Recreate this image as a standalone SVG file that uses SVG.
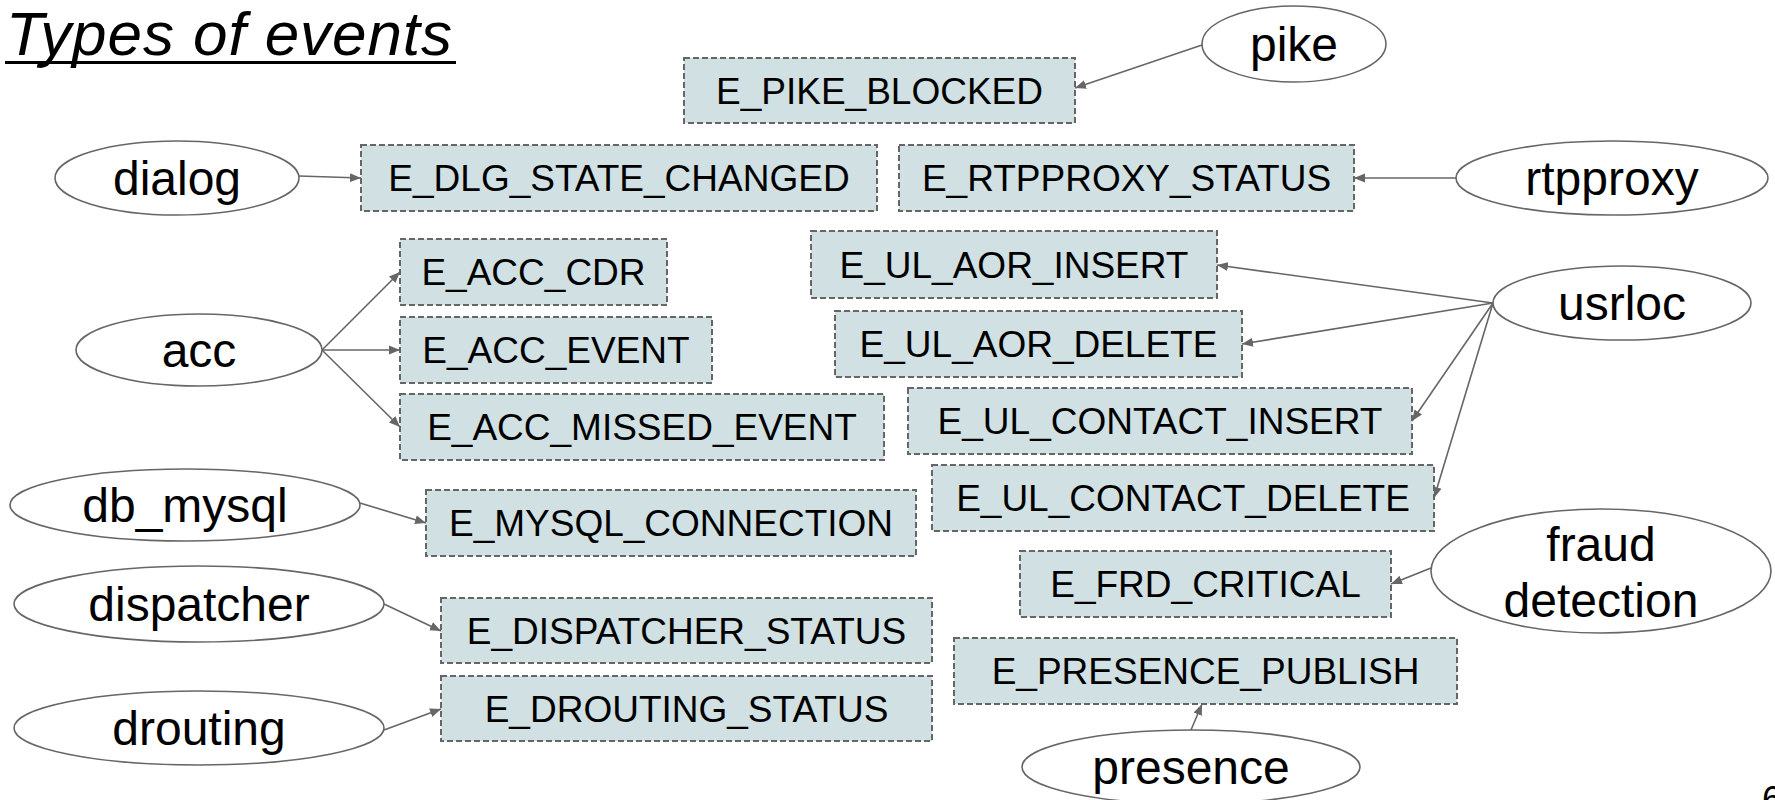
<svg xmlns="http://www.w3.org/2000/svg" width="1775" height="800" viewBox="0 0 1775 800">
<defs>
<marker id="arr" markerUnits="userSpaceOnUse" markerWidth="12" markerHeight="10" refX="11" refY="5" orient="auto">
<path d="M0,0.5 L11,5 L0,9.5 z" fill="#666666"/>
</marker>
<style>
.box{fill:#d0e0e3;stroke:#666666;stroke-width:2;stroke-dasharray:6,3}
.bt{font-family:"Liberation Sans",Arial,sans-serif;font-size:37px;fill:#000;text-anchor:middle}
.el{fill:#ffffff;stroke:#666666;stroke-width:1.6}
.et{font-family:"Liberation Sans",Arial,sans-serif;font-size:48px;fill:#000;text-anchor:middle}
.c{stroke:#666666;stroke-width:1.6;fill:none;marker-end:url(#arr)}
</style>
</defs>
<rect width="1775" height="800" fill="#ffffff"/>
<text x="6" y="55" font-family="Liberation Sans,Arial,sans-serif" font-size="62" font-style="italic" fill="#000" textLength="446" lengthAdjust="spacing">Types of events</text>
<rect x="5" y="61" width="451" height="3" fill="#000"/>

<g id="connectors">
<line class="c" x1="1202" y1="45" x2="1075" y2="88"/>
<line class="c" x1="299" y1="176" x2="361" y2="178"/>
<line class="c" x1="1456" y1="178" x2="1354" y2="178"/>
<line class="c" x1="322" y1="350" x2="400" y2="272"/>
<line class="c" x1="322" y1="350" x2="400" y2="350"/>
<line class="c" x1="322" y1="350" x2="400" y2="427"/>
<line class="c" x1="360" y1="503" x2="426" y2="523"/>
<line class="c" x1="384" y1="604" x2="441" y2="631"/>
<line class="c" x1="384" y1="730" x2="441" y2="709"/>
<line class="c" x1="1493" y1="303" x2="1217" y2="265"/>
<line class="c" x1="1493" y1="303" x2="1242" y2="344"/>
<line class="c" x1="1493" y1="303" x2="1412" y2="421"/>
<line class="c" x1="1493" y1="303" x2="1434" y2="498"/>
<line class="c" x1="1431" y1="568" x2="1391" y2="584"/>
<line class="c" x1="1191" y1="730" x2="1202" y2="704"/>
</g>

<g id="E_PIKE_BLOCKED"><rect class="box" x="684" y="58" width="391" height="65"/><text class="bt" x="879.5" y="104">E_PIKE_BLOCKED</text></g>
<g id="E_DLG_STATE_CHANGED"><rect class="box" x="361" y="145" width="516" height="66"/><text class="bt" x="619" y="191">E_DLG_STATE_CHANGED</text></g>
<g id="E_RTPPROXY_STATUS"><rect class="box" x="899" y="145" width="455" height="66"/><text class="bt" x="1126.5" y="191">E_RTPPROXY_STATUS</text></g>
<g id="E_ACC_CDR"><rect class="box" x="400" y="239" width="267" height="66"/><text class="bt" x="533.5" y="285">E_ACC_CDR</text></g>
<g id="E_ACC_EVENT"><rect class="box" x="400" y="317" width="312" height="66"/><text class="bt" x="556" y="363">E_ACC_EVENT</text></g>
<g id="E_ACC_MISSED_EVENT"><rect class="box" x="400" y="394" width="484" height="66"/><text class="bt" x="642" y="440">E_ACC_MISSED_EVENT</text></g>
<g id="E_UL_AOR_INSERT"><rect class="box" x="811" y="231" width="406" height="67"/><text class="bt" x="1014" y="278">E_UL_AOR_INSERT</text></g>
<g id="E_UL_AOR_DELETE"><rect class="box" x="835" y="311" width="407" height="66"/><text class="bt" x="1038.5" y="357">E_UL_AOR_DELETE</text></g>
<g id="E_UL_CONTACT_INSERT"><rect class="box" x="908" y="388" width="504" height="66"/><text class="bt" x="1160" y="434">E_UL_CONTACT_INSERT</text></g>
<g id="E_UL_CONTACT_DELETE"><rect class="box" x="932" y="465" width="502" height="66"/><text class="bt" x="1183" y="511">E_UL_CONTACT_DELETE</text></g>
<g id="E_MYSQL_CONNECTION"><rect class="box" x="426" y="490" width="490" height="66"/><text class="bt" x="671" y="536">E_MYSQL_CONNECTION</text></g>
<g id="E_DISPATCHER_STATUS"><rect class="box" x="441" y="598" width="491" height="65"/><text class="bt" x="686.5" y="644">E_DISPATCHER_STATUS</text></g>
<g id="E_DROUTING_STATUS"><rect class="box" x="441" y="676" width="491" height="65"/><text class="bt" x="686.5" y="722">E_DROUTING_STATUS</text></g>
<g id="E_FRD_CRITICAL"><rect class="box" x="1020" y="551" width="371" height="66"/><text class="bt" x="1205.5" y="597">E_FRD_CRITICAL</text></g>
<g id="E_PRESENCE_PUBLISH"><rect class="box" x="954" y="638" width="503" height="66"/><text class="bt" x="1205.5" y="684">E_PRESENCE_PUBLISH</text></g>

<g id="pike"><ellipse class="el" cx="1294" cy="44" rx="92" ry="38"/><text class="et" x="1294" y="61">pike</text></g>
<g id="dialog"><ellipse class="el" cx="177" cy="178" rx="122" ry="37"/><text class="et" x="177" y="195">dialog</text></g>
<g id="rtpproxy"><ellipse class="el" cx="1612" cy="178" rx="156" ry="37"/><text class="et" x="1612" y="195">rtpproxy</text></g>
<g id="acc"><ellipse class="el" cx="199" cy="350" rx="123" ry="36"/><text class="et" x="199" y="367">acc</text></g>
<g id="usrloc"><ellipse class="el" cx="1622" cy="303" rx="129" ry="37"/><text class="et" x="1622" y="320">usrloc</text></g>
<g id="db_mysql"><ellipse class="el" cx="185" cy="505" rx="175" ry="36"/><text class="et" x="185" y="522">db_mysql</text></g>
<g id="dispatcher"><ellipse class="el" cx="199" cy="604" rx="185" ry="38"/><text class="et" x="199" y="621">dispatcher</text></g>
<g id="drouting"><ellipse class="el" cx="199" cy="728" rx="185" ry="37"/><text class="et" x="199" y="745">drouting</text></g>
<g id="fraud_detection"><ellipse class="el" cx="1601" cy="571" rx="170" ry="62"/><text class="et" x="1601" y="561">fraud</text><text class="et" x="1601" y="617">detection</text></g>
<g id="presence"><ellipse class="el" cx="1191" cy="767" rx="169" ry="37"/><text class="et" x="1191" y="784">presence</text></g>

<text x="1762" y="812" font-family="Liberation Sans,Arial,sans-serif" font-size="36" fill="#000">6</text>
</svg>
